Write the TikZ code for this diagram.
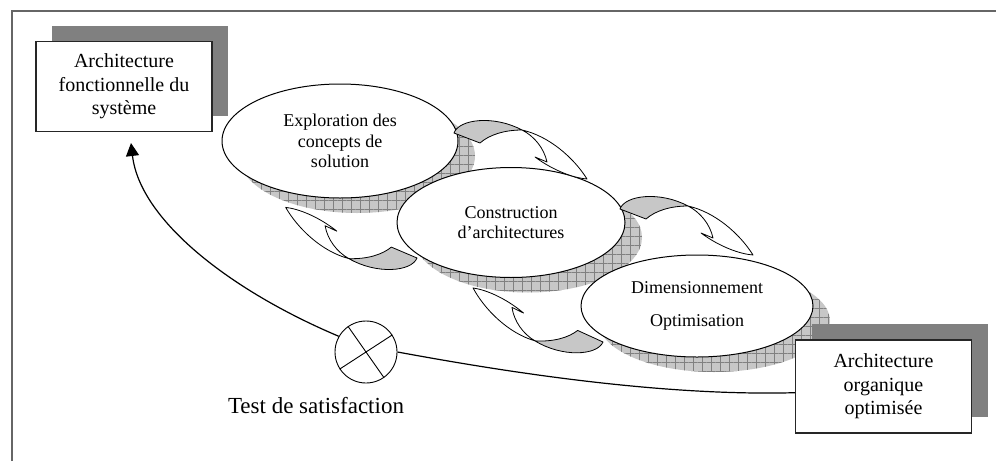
\documentclass[tikz,border=0pt]{standalone}
\usepackage{fontspec}
\setmainfont{Liberation Serif}
\usetikzlibrary{shapes.geometric,shadows,patterns.meta,arrows.meta}

\tikzset{
  archi/.style={draw=black!85, line width=1.1pt, fill=white, minimum width=176pt, minimum height=90pt,
    align=center, font=\fontsize{20}{23.5}\selectfont,
    general shadow={shadow xshift=16pt, shadow yshift=16pt, fill=black!50}},
  etape/.style={ellipse, draw, line width=1pt, fill=white, inner sep=0pt, align=center,
    font=\fontsize{18}{20.5}\selectfont,
    general shadow={shadow xshift=17pt, shadow yshift=-15pt, fill=black!22},
    general shadow={shadow xshift=17pt, shadow yshift=-15pt,
      pattern={Hatch[angle=0,distance=9pt,line width=0.5pt]}, pattern color=black!50}},
  ribbon/.style={draw, line width=0.8pt, fill=black!22, line join=round},
  arrowfront/.style={draw, line width=0.8pt, fill=white, line join=round},
  bendarrow/.pic={
    \draw[ribbon] (0,0) .. controls (5,-14) and (40,-18) .. (68,-3)
      .. controls (50,-3) and (35,2) .. (26,10) -- cycle;
    \draw[arrowfront] (68,-3) .. controls (95,3) and (120,25) .. (133,46)
      .. controls (120,45) and (100,38) .. (81,24) -- (93,29)
      .. controls (90,15) and (80,3) .. (68,-3) -- cycle;
  },
}

\begin{document}
\begin{tikzpicture}[x=1pt,y=-1pt,>={Triangle[length=13pt,width=13pt]}]
\useasboundingbox[fill=white] (0,0) rectangle (996,461);
% cadre
\draw[black!60, line width=1.6pt] (12,461) -- (12,11) -- (996,11);

\node[archi] (fonct) at (124,86.5) {Architecture\\fonctionnelle du\\système};

% etapes
\node[etape, minimum width=236pt, minimum height=114pt] (explo) at (340,141) {Exploration des\\concepts de\\solution};
\node[etape, minimum width=228pt, minimum height=110pt] (constr) at (511,222.5) {Construction\\d’architectures};
\node[etape, minimum width=232pt, minimum height=102pt] (dimens) at (697,306) {Dimensionnement\\[13pt]Optimisation};

% fleches entre etapes
\pic at (454,133) {bendarrow};
\pic at (620,209) {bendarrow};
\pic[rotate=178] at (417,258) {bendarrow};
\pic[rotate=176.5] at (603,342) {bendarrow};

\node[archi, minimum height=93pt] (orga) at (883.5,386.5) {Architecture\\organique\\optimisée};

% test et bouclage
\node[circle, draw, line width=0.9pt, minimum size=62pt, inner sep=0pt] (test) at (366,352) {};
\draw[line width=0.9pt] (test.125) -- (test.-55) (test.213) -- (test.33);
\node[font=\fontsize{23}{27}\selectfont] (testlbl) at (316,406) {Test de satisfaction};

\coordinate (retour) at (131,143);
\draw[line width=1.2pt] (orga.184) .. controls +(-146,4) and +(82,15) .. (test.east);
\draw[line width=1.2pt, ->] (test.150) .. controls +(-109,-46) and +(9,77) .. (retour);
\end{tikzpicture}
\end{document}
